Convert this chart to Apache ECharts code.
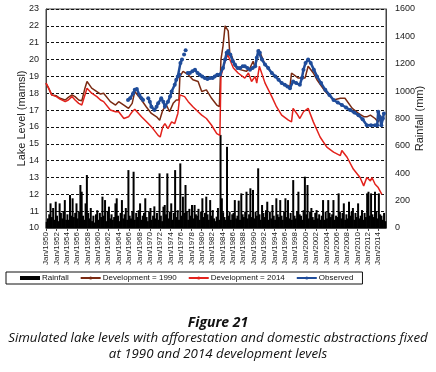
<!DOCTYPE html>
<html>
<head>
<meta charset="utf-8">
<script src="https://cdn.jsdelivr.net/npm/echarts@6/dist/echarts.min.js"></script>
<style>
  html, body { margin: 0; padding: 0; background: #fff; }
  #chart { width: 436px; height: 372px; }
</style>
</head>
<body>
<div id="chart"></div>
<script>
// rainfall (mm), four readings per year, 1950 .. mid 2015
var rainfall = [
    [45, 70, 100, 180], [80, 146, 60, 192], [90, 50, 180, 110], [70, 120, 204, 60],
    [100, 60, 241, 90], [217, 80, 110, 180], [70, 120, 314, 265], [90, 60, 180, 387],
    [110, 70, 146, 50], [90, 40, 100, 130], [60, 110, 80, 229], [90, 204, 50, 120],
    [156, 70, 100, 60], [80, 180, 217, 90], [50, 110, 204, 70], [100, 146, 60, 423],
    [90, 70, 120, 411], [60, 110, 80, 130], [180, 60, 90, 110], [217, 80, 50, 120],
    [146, 60, 90, 158], [70, 110, 60, 399], [90, 50, 156, 168], [100, 399, 70, 120],
    [180, 60, 110, 423], [80, 130, 60, 472], [90, 229, 110, 314], [120, 60, 140, 90],
    [168, 70, 168, 100], [90, 140, 60, 120], [217, 80, 110, 229], [100, 60, 204, 90],
    [131, 70, 50, 83], [146, 60, 680, 217], [115, 80, 60, 593], [90, 120, 60, 100],
    [110, 204, 70, 90], [200, 60, 253, 100], [80, 120, 265, 70], [100, 290, 80, 278],
    [70, 120, 90, 436], [100, 60, 168, 110], [80, 130, 192, 60], [120, 70, 168, 90],
    [60, 217, 100, 80], [204, 90, 60, 120], [217, 80, 204, 70], [110, 60, 350, 90],
    [70, 120, 265, 100], [90, 60, 130, 375], [100, 314, 70, 120], [146, 80, 60, 110],
    [131, 70, 100, 60], [90, 204, 60, 120], [70, 204, 110, 80], [100, 204, 60, 90],
    [80, 253, 120, 70], [110, 180, 60, 100], [70, 192, 90, 120], [146, 60, 110, 80],
    [180, 70, 90, 131], [60, 110, 80, 253], [265, 90, 253, 100], [80, 265, 120, 70],
    [253, 100, 90, 60], [110, 50]
];

// lake level (mamsl), [year, level]
var dev1990 = [
    [1950.0, 18.6], [1950.5, 18.3], [1951.1, 17.9], [1952.0, 17.85], [1952.7, 17.7],
    [1953.7, 17.6], [1954.3, 17.75], [1955.0, 17.9], [1955.6, 17.8], [1956.3, 17.6],
    [1956.9, 17.55], [1957.5, 18.3], [1957.9, 18.7], [1958.8, 18.3], [1959.8, 18.1],
    [1960.5, 17.95], [1961.1, 18.0], [1962.4, 17.5], [1963.4, 17.3], [1964.0, 17.5],
    [1965.0, 17.3], [1965.9, 17.1], [1966.6, 17.4], [1967.1, 18.1], [1968.4, 17.6],
    [1969.3, 17.2], [1970.3, 16.8], [1971.3, 16.6], [1971.9, 16.4], [1972.5, 17.0],
    [1973.2, 17.3], [1973.8, 16.9], [1974.5, 17.4], [1975.1, 17.6], [1975.6, 17.6],
    [1975.8, 19.0], [1976.4, 19.3], [1977.4, 19.1], [1978.3, 18.8], [1979.3, 18.7],
    [1980.0, 18.1], [1980.9, 18.2], [1981.9, 17.7], [1982.9, 17.3], [1983.4, 17.2],
    [1983.7, 20.0], [1984.1, 20.8], [1984.5, 22.0], [1984.8, 21.9], [1985.1, 21.7],
    [1985.4, 20.4], [1985.8, 20.2], [1986.4, 19.6], [1987.4, 19.4], [1988.6, 19.3],
    [1989.3, 19.5], [1989.9, 19.9], [1990.3, 19.5], [1991.0, 20.6], [1992.2, 19.7],
    [1993.5, 19.2], [1994.8, 18.8], [1996.0, 18.5], [1997.0, 18.4], [1997.3, 19.2],
    [1998.6, 18.9], [1999.9, 18.9], [2000.5, 19.6], [2001.5, 19.2], [2002.2, 18.8],
    [2003.8, 18.1], [2005.4, 17.6], [2006.7, 17.7], [2007.6, 17.7], [2009.0, 17.1],
    [2010.2, 16.8], [2011.3, 16.6], [2011.8, 16.6], [2012.5, 16.7], [2013.4, 16.5],
    [2014.0, 16.3], [2014.5, 16.6], [2015.0, 16.4]
];

var dev2014 = [
    [1950.0, 18.6], [1950.5, 18.3], [1951.1, 17.9], [1952.0, 17.8], [1952.7, 17.65],
    [1953.7, 17.5], [1954.3, 17.6], [1955.0, 17.8], [1955.6, 17.6], [1956.3, 17.4],
    [1956.9, 17.3], [1957.5, 17.9], [1957.9, 18.3], [1958.8, 18.0], [1959.8, 17.8],
    [1960.5, 17.6], [1961.1, 17.5], [1962.4, 17.0], [1963.4, 16.9], [1964.0, 16.9],
    [1965.0, 16.5], [1965.9, 16.6], [1966.6, 16.9], [1967.1, 17.05], [1968.4, 16.6],
    [1969.7, 16.2], [1970.6, 15.9], [1971.6, 15.5], [1972.0, 15.4], [1972.5, 16.0],
    [1972.9, 16.2], [1973.5, 15.9], [1974.2, 16.3], [1974.8, 16.2], [1975.4, 16.8],
    [1975.8, 17.9], [1976.7, 17.8], [1977.4, 17.5], [1978.3, 17.2], [1979.3, 16.9],
    [1980.0, 16.7], [1980.9, 16.5], [1981.9, 16.1], [1982.9, 15.6], [1983.5, 15.5],
    [1983.7, 19.0], [1984.3, 19.7], [1985.0, 20.3], [1986.1, 19.5], [1987.0, 19.2],
    [1988.3, 18.9], [1989.0, 19.2], [1989.6, 18.7], [1990.3, 19.0], [1990.6, 18.6],
    [1991.1, 19.6], [1992.2, 18.6], [1993.5, 17.8], [1994.4, 17.2], [1995.4, 16.7],
    [1996.7, 16.4], [1997.3, 16.3], [1997.6, 17.1], [1998.3, 16.8], [1998.9, 16.5],
    [1999.6, 16.9], [2000.5, 17.1], [2001.5, 16.3], [2002.8, 15.4], [2004.1, 14.8],
    [2005.4, 14.5], [2006.7, 14.3], [2007.0, 14.6], [2008.0, 14.2], [2009.2, 13.5],
    [2010.5, 13.0], [2011.2, 12.5], [2011.8, 13.0], [2012.5, 12.8], [2012.8, 13.0],
    [2013.4, 12.6], [2014.0, 12.4], [2014.7, 12.0]
];

var observed = [
    [1965.8, 17.6], [1966.2, 17.7], [1966.8, 18.0], [1967.1, 18.2], [1967.5, 18.25],
    [1968.0, 17.9], [1968.4, 17.7], [1968.7, 17.6], [1969.2, null],
    [1969.7, 17.7], [1970.0, 17.5], [1970.3, 17.2], [1970.9, 17.0], [1971.3, 17.2],
    [1971.6, 17.4], [1972.2, 17.7], [1972.6, 17.5], [1972.9, 17.2], [1973.5, 17.5],
    [1973.9, 17.8], [1974.2, 18.1], [1974.8, 18.5], [1975.1, 18.8], [1975.4, 19.0],
    [1975.7, 19.1], [1975.9, 19.8], [1976.2, 20.0], [1976.4, null], [1976.6, 20.3],
    [1976.75, null], [1976.9, 20.55], [1977.1, null],
    [1977.3, 19.2], [1977.7, 19.2], [1978.2, 19.3], [1978.7, 19.4], [1979.2, 19.2],
    [1979.6, 19.1], [1980.1, 19.0], [1980.6, 18.9], [1981.1, 18.85], [1981.6, 18.9],
    [1982.1, 18.9], [1982.5, 19.0], [1983.0, 19.1], [1983.5, 19.1], [1984.1, 19.5],
    [1984.5, 20.0], [1984.8, 20.4], [1985.1, 20.5], [1985.5, 20.3], [1986.0, 19.9],
    [1986.4, 19.7], [1986.9, 19.5], [1987.4, 19.5], [1987.9, 19.6], [1988.3, 19.6],
    [1988.8, 19.5], [1989.3, 19.4], [1989.8, 19.5], [1990.3, 19.6], [1990.6, 20.1],
    [1990.9, 20.5], [1991.2, 20.4], [1991.6, 20.0], [1992.2, 19.7], [1992.8, 19.5],
    [1993.5, 19.2], [1994.2, 19.0], [1994.8, 18.8], [1995.4, 18.6], [1996.0, 18.5],
    [1996.5, 18.4], [1997.0, 18.3], [1997.6, 18.7], [1998.2, 18.6], [1998.9, 18.5],
    [1999.3, 18.9], [1999.6, 19.4], [2000.0, 19.8], [2000.5, 20.0], [2001.0, 19.8],
    [2001.6, 19.4], [2002.2, 19.0], [2003.0, 18.6], [2003.8, 18.2], [2004.6, 17.9],
    [2005.4, 17.6], [2006.2, 17.45], [2007.0, 17.3], [2007.8, 17.15], [2008.6, 17.0],
    [2009.4, 16.85], [2010.2, 16.7], [2011.0, 16.45], [2011.8, 16.1], [2012.6, 16.1],
    [2013.4, 16.1], [2013.8, 16.1], [2014.0, 16.9], [2014.3, 16.6], [2014.6, 16.1],
    [2014.9, 16.5], [2015.1, 16.8]
];

var firstYear = 1950;
var legendNames = ['Rainfall', 'Development = 1990', 'Development = 2014', 'Observed'];
var captionTitle = 'Figure 21';
var captionLines = [
    'Simulated lake levels with afforestation and domestic abstractions fixed',
    'at 1990 and 2014 development levels'
];

var rainData = [];
rainfall.forEach(function (row, i) {
    row.forEach(function (v, q) {
        rainData.push([firstYear + i + q * 0.25 + 0.125, v]);
    });
});

var font = '"Liberation Sans", Arial, sans-serif';
var capFont = '"Open Sans", sans-serif';
var myChart = echarts.init(document.getElementById('chart'), null, { renderer: 'canvas' });
var option = {
    animation: false,
    backgroundColor: '#fff',
    textStyle: { fontFamily: font },
    grid: {
        left: 46, right: 50, top: 9, bottom: 144,
        show: true, borderColor: '#444', borderWidth: 1
    },
    legend: {
        left: 6, top: 272,
        orient: 'horizontal',
        padding: [2, 9, 2, 14],
        itemGap: 11,
        itemWidth: 20, itemHeight: 4,
        borderColor: '#111', borderWidth: 1,
        textStyle: { fontSize: 8, color: '#111', fontFamily: font, padding: [0, 0, 0, -3] },
        data: [
            { name: legendNames[0], icon: 'rect' },
            { name: legendNames[1] },
            { name: legendNames[2] },
            { name: legendNames[3] }
        ]
    },
    xAxis: {
        type: 'value',
        min: 1950, max: 2015.5, interval: 2,
        axisLine: { show: true, lineStyle: { color: '#444' } },
        axisTick: { show: true, length: 3, lineStyle: { color: '#444' } },
        splitLine: { show: false },
        axisLabel: {
            rotate: 90, fontSize: 8, color: '#222', margin: 4,
            showMaxLabel: false,
            formatter: function (v) {
                return (v % 2 === 0) ? 'Jan/' + v : '';
            }
        }
    },
    yAxis: [
        {
            type: 'value', min: 10, max: 23, interval: 1,
            name: 'Lake Level (mamsl)', nameLocation: 'middle', nameGap: 19,
            nameMoveOverlap: false,
            nameTextStyle: { fontSize: 11, color: '#222' },
            axisLine: { show: true, lineStyle: { color: '#444' } },
            axisTick: { show: false },
            axisLabel: { fontSize: 9, color: '#222', margin: 7 },
            splitLine: { show: true, lineStyle: { color: '#111', type: [3, 2], width: 1 } }
        },
        {
            type: 'value', min: 0, max: 1600, interval: 200,
            name: 'Rainfall (mm)', nameLocation: 'middle', nameGap: 28,
            nameMoveOverlap: false,
            nameTextStyle: { fontSize: 11, color: '#222' },
            axisLine: { show: true, lineStyle: { color: '#444' } },
            axisTick: { show: false },
            axisLabel: {
                fontSize: 9, color: '#222', margin: 9,
                formatter: function (v) { return String(v); }
            },
            splitLine: { show: false }
        }
    ],
    series: [
        {
            name: legendNames[0], type: 'bar', yAxisIndex: 1,
            barWidth: 2, itemStyle: { color: '#000' },
            data: rainData
        },
        {
            name: legendNames[1], type: 'line', yAxisIndex: 0,
            showSymbol: false, symbol: 'none',
            lineStyle: { color: '#7a2a12', width: 1.5 }, itemStyle: { color: '#7a2a12' },
            data: dev1990
        },
        {
            name: legendNames[2], type: 'line', yAxisIndex: 0,
            showSymbol: false, symbol: 'none',
            lineStyle: { color: '#e3221c', width: 1.5 }, itemStyle: { color: '#e3221c' },
            data: dev2014
        },
        {
            name: legendNames[3], type: 'line', yAxisIndex: 0,
            symbol: 'circle', symbolSize: 4, showSymbol: true, showAllSymbol: true,
            connectNulls: false,
            lineStyle: { color: '#1f4c9a', width: 2.5 }, itemStyle: { color: '#1f4c9a' },
            data: observed
        }
    ],
    graphic: [
        {
            type: 'text', left: 'center', top: 316,
            style: { text: captionTitle, font: 'italic bold 14px ' + capFont, fill: '#111' }
        },
        {
            type: 'text', left: 'center', top: 332,
            style: { text: captionLines[0], font: 'italic 13.3px ' + capFont, fill: '#111' }
        },
        {
            type: 'text', left: 'center', top: 348,
            style: { text: captionLines[1], font: 'italic 13.3px ' + capFont, fill: '#111' }
        }
    ]
};
myChart.setOption(option);
</script>
</body>
</html>
